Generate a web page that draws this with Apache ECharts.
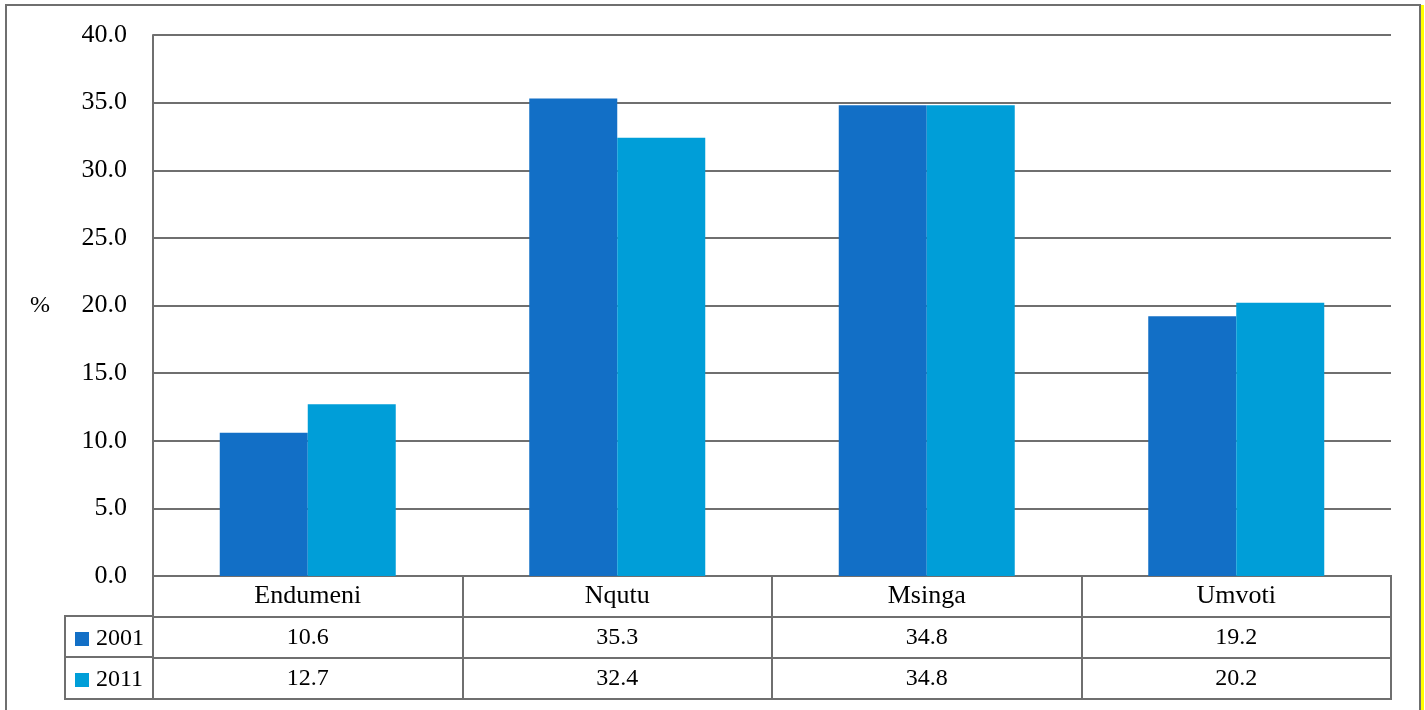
<!DOCTYPE html>
<html><head><meta charset="utf-8">
<script src="https://cdn.jsdelivr.net/npm/echarts@6/dist/echarts.min.js"></script>
<style>html,body{margin:0;padding:0;background:#fff}#c{width:1425px;height:710px}</style>
</head><body><div id="c"></div>
<script>
const categories = ['Endumeni', 'Nqutu', 'Msinga', 'Umvoti'];
const seriesNames = ['2001', '2011'];
const values2001 = [10.6, 35.3, 34.8, 19.2];
const values2011 = [12.7, 32.4, 34.8, 20.2];
const yTicks = [0, 5, 10, 15, 20, 25, 30, 35, 40];
const colors = ['#126FC6', '#009ED8'];
const FONT = 'Liberation Serif';
const LINE = '#6f6f6f';

const tableCells = [];
categories.forEach((c, i) => {
  tableCells.push({value: [i, 0], label: {formatter: c, fontSize: 26}});
  tableCells.push({value: [i, 1], label: {formatter: values2001[i].toFixed(1)}});
  tableCells.push({value: [i, 2], label: {formatter: values2011[i].toFixed(1)}});
});

const legendBase = {
  orient: 'vertical', left: 75, padding: 0, itemWidth: 14, itemHeight: 14, icon: 'rect',
  textStyle: {fontFamily: FONT, fontSize: 24, lineHeight: 14, color: '#000', padding: [0, 0, 0, 2]}
};

const chart = echarts.init(document.getElementById('c'));
chart.setOption({
  animation: false,
  backgroundColor: '#fff',
  textStyle: {fontFamily: FONT},
  grid: [
    {left: 153, right: 34, top: 35, bottom: 134},
    {left: 153, right: 34, top: 576, bottom: 11, show: true, borderColor: LINE, borderWidth: 2}
  ],
  legend: [
    Object.assign({}, legendBase, {data: [seriesNames[0]], top: 627}),
    Object.assign({}, legendBase, {data: [seriesNames[1]], top: 668})
  ],
  xAxis: [
    {type: 'category', gridIndex: 0, data: categories, axisLine: {lineStyle: {color: LINE, width: 2}},
     axisTick: {show: false}, axisLabel: {show: false}},
    {type: 'category', gridIndex: 1, data: categories, axisLine: {show: false}, axisTick: {show: false},
     axisLabel: {show: false}, splitLine: {show: true, lineStyle: {color: LINE, width: 2}}}
  ],
  yAxis: [
    {type: 'value', gridIndex: 0, min: yTicks[0], max: yTicks[yTicks.length - 1], interval: 5,
     name: '%', nameLocation: 'middle', nameRotate: 0, nameGap: 103,
     nameTextStyle: {fontFamily: FONT, fontSize: 24, color: '#000'},
     axisLine: {show: true, lineStyle: {color: LINE, width: 2}}, axisTick: {show: false},
     axisLabel: {margin: 26, fontSize: 26, color: '#000', formatter: v => v.toFixed(1)},
     splitLine: {lineStyle: {color: LINE, width: 2}}},
    {type: 'category', gridIndex: 1, inverse: true, data: ['cat', '2001', '2011'],
     axisLine: {show: false}, axisTick: {show: false}, axisLabel: {show: false},
     splitLine: {show: true, lineStyle: {color: LINE, width: 2}}}
  ],
  series: [
    {name: seriesNames[0], type: 'bar', data: values2001, barWidth: 88, barGap: '0%', itemStyle: {color: colors[0]}},
    {name: seriesNames[1], type: 'bar', data: values2011, barWidth: 88, barGap: '0%', itemStyle: {color: colors[1]}},
    {type: 'scatter', xAxisIndex: 1, yAxisIndex: 1, symbolSize: 0, data: tableCells, silent: true,
     itemStyle: {opacity: 1},
     label: {show: true, position: 'inside', fontFamily: FONT, fontSize: 24, color: '#000', opacity: 1}}
  ],
  graphic: [
    {type: 'rect', shape: {x: 6, y: 5, width: 1414, height: 720}, style: {fill: 'none', stroke: LINE, lineWidth: 2}, z: 100},
    {type: 'rect', shape: {x: 1421, y: 5, width: 3, height: 710}, style: {fill: '#ffff00'}, z: 100},
    {type: 'polyline', shape: {points: [[153, 616], [65, 616], [65, 699], [153, 699]]}, style: {fill: 'none', stroke: LINE, lineWidth: 2}, z: 100},
    {type: 'line', shape: {x1: 65, y1: 657, x2: 153, y2: 657}, style: {stroke: LINE, lineWidth: 2}, z: 100}
  ]
});
</script></body></html>
